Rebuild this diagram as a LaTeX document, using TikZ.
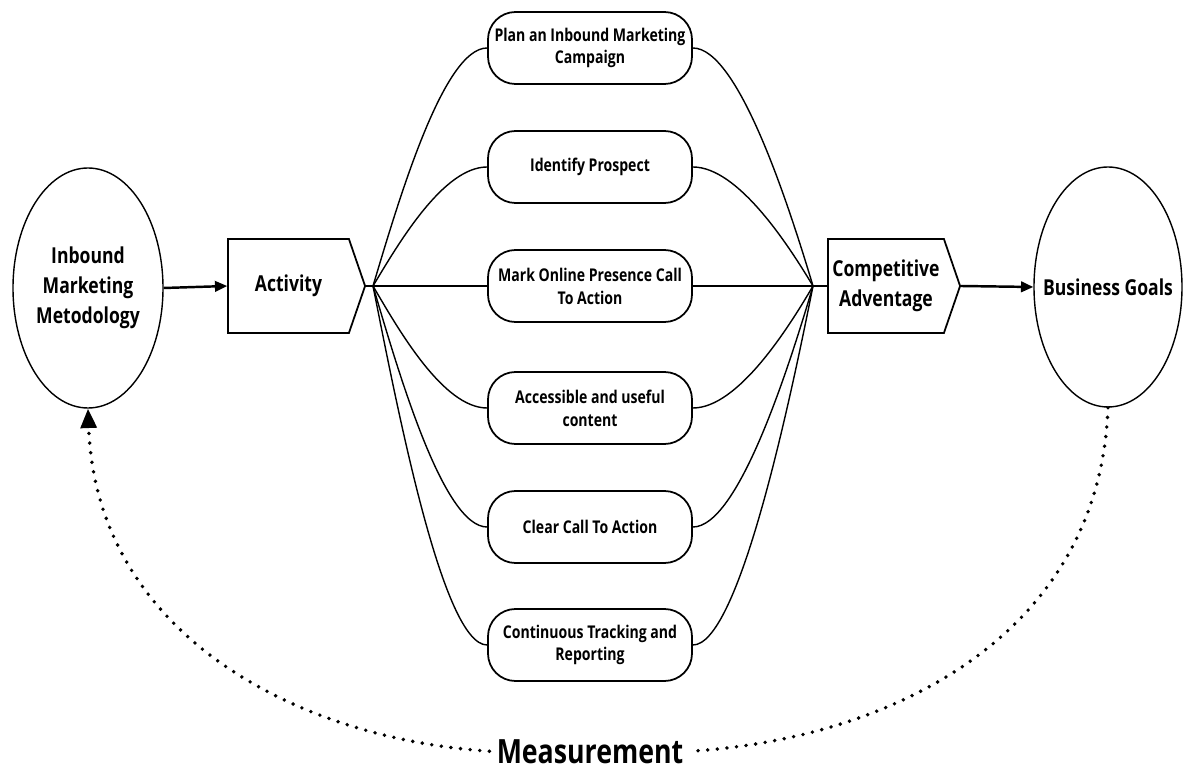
\documentclass[tikz,border=0pt]{standalone}
\usepackage{fontspec}
\setmainfont{Open Sans}[FakeStretch=0.8]
\usetikzlibrary{shapes.geometric,shapes.symbols,arrows.meta}

\begin{document}
\begin{tikzpicture}[
	goal/.style={draw, ellipse, line width=0.8pt, minimum width=3cm, minimum height=4.8cm, inner sep=0pt, align=center, font=\bfseries\fontsize{12.5}{17}\selectfont},
	arrowbox/.style={draw, signal, signal to=east, signal pointer angle=142, line width=1pt, minimum height=1.88cm, inner sep=0pt, align=center, font=\bfseries\fontsize{12.5}{17}\selectfont},
	task/.style={draw, rectangle, rounded corners=0.55cm, line width=1pt, minimum width=4.08cm, minimum height=1.44cm, align=center, font=\bfseries\fontsize{10}{13}\selectfont},
	link/.style={line width=0.8pt},
	flow/.style={line width=1.4pt, -{Triangle[length=7pt,width=6pt]}},
	feedback/.style={line width=2.2pt, dash pattern=on 0pt off 5.5pt, line cap=round}
]
	\useasboundingbox (0,0) rectangle (23.72,15.38);
	\node[goal] (inbound) at (1.76,9.62) {Inbound\\Marketing\\Metodology};
	\node[goal, minimum width=2.96cm] (goals) at (22.16,9.64) {\makebox[0pt]{Business Goals}};
	\node[arrowbox, minimum width=2.74cm] (act) at (5.77,9.66) {Activity};
	\node[arrowbox, minimum width=2.64cm] (ca) at (17.72,9.66) {Competitive\\Adventage};
	\draw[flow] (inbound.east) -- (act.west);
	\draw[flow] (ca.east) -- (goals.west);
	\coordinate (fanL) at (7.46,9.66);
	\coordinate (fanR) at (16.26,9.66);
	\draw[link] (act.east) -- (fanL);
	\draw[link] (fanR) -- (ca.west);
	\foreach \i/\y/\txt in {1/14.42/{Plan an Inbound Marketing\\Campaign}, 2/12.04/{Identify Prospect}, 3/9.66/{Mark Online Presence Call\\To Action}, 4/7.22/{Accessible and useful\\content}, 5/4.84/{Clear Call To Action}, 6/2.48/{Continuous Tracking and\\Reporting}} {
		\node[task] (b\i) at (11.8,\y) {\txt};
		\draw[link] (fanL) .. controls +(0.5,{0.35*(\y-9.66)}) and (8.86,\y) .. (b\i.west);
		\draw[link] (b\i.east) .. controls +(0.9,0) and (15.76,{9.66+0.35*(\y-9.66)}) .. (fanR);
	}
	\node[font=\bfseries\fontsize{19}{23}\selectfont, inner sep=4pt, anchor=base] (meas) at (11.8,0.12) {Measurement};
	\draw[feedback] (goals.south) .. controls (22.0,2.78) and (18.0,0.62) .. (meas.east);
	\draw[feedback, -{Triangle[length=11pt,width=9pt]}] (meas.west) .. controls (5.8,0.62) and (1.92,2.78) .. (inbound.south);
\end{tikzpicture}
\end{document}
